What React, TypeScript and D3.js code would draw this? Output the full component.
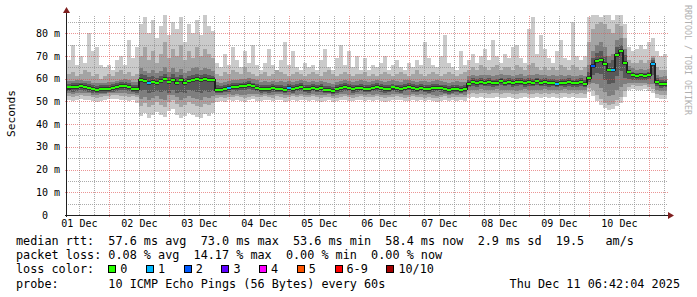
import React from 'react';
import * as d3 from 'd3';

// ---------- data (150 consolidated columns, Dec 1 07:02 -> Dec 11 07:02 UTC) ----------
const MED = [
  56.1, 56.2, 56.5, 56.6, 56.4, 56.0, 55.4, 55.2, 55.4, 55.3,
  55.6, 55.8, 56.2, 56.8, 56.9, 56.4, 55.6, 55.5, 59.6, 59.0,
  58.2, 58.4, 58.0, 58.8, 59.8, 58.6, 59.6, 58.2, 59.4, 58.0,
  58.8, 59.6, 60.0, 59.2, 59.8, 59.6, 59.2, 55.2, 55.0, 55.4,
  55.8, 56.4, 56.2, 56.6, 56.8, 57.2, 56.6, 56.0, 55.4, 55.6,
  55.4, 55.8, 55.5, 55.6, 55.2, 55.8, 55.4, 55.9, 56.2, 55.6,
  55.4, 55.9, 55.5, 55.8, 55.2, 55.0, 54.6, 55.3, 55.8, 56.2,
  55.9, 55.4, 55.7, 56.0, 55.6, 55.5, 55.9, 56.3, 55.8, 55.3,
  55.6, 56.1, 55.7, 55.4, 56.0, 56.4, 55.8, 55.5, 55.9, 55.6,
  55.3, 55.8, 56.0, 55.7, 55.4, 54.9, 55.3, 55.6, 55.2, 55.5,
  57.6, 58.4, 58.0, 58.6, 58.2, 58.5, 57.9, 58.3, 58.8, 58.2,
  58.6, 58.0, 58.4, 58.7, 58.1, 58.5, 58.3, 58.8, 58.2, 58.5,
  58.0, 58.3, 57.8, 58.2, 58.0, 58.4, 57.9, 58.1, 58.4, 57.8,
  60.5, 65.5, 67.6, 68.0, 66.5, 63.6, 64.0, 70.5, 72.0, 67.0,
  62.8, 61.6, 61.2, 61.4, 61.1, 61.5, 66.5, 58.6, 57.6, 57.8,
];
const MAX = [
  68, 75, 66, 70, 67, 80, 72, 74, 66, 65,
  66, 64, 68, 70, 66, 77, 69, 74, 84, 87,
  80, 86, 78, 83, 88, 79, 85, 82, 87, 76,
  84, 80, 86, 79, 88, 83, 81, 67, 65, 71,
  66, 74, 68, 65, 72, 67, 75, 66, 64, 67,
  73, 66, 64, 68, 76, 66, 72, 65, 64, 67,
  65, 66, 64, 68, 73, 65, 64, 69, 75, 66,
  72, 65, 70, 64, 69, 64, 66, 65, 67, 70,
  64, 66, 68, 65, 64, 67, 65, 68, 66, 76,
  69, 66, 65, 70, 79, 67, 65, 64, 72, 66,
  68, 71, 67, 70, 73, 68, 77, 70, 67, 71,
  69, 74, 75, 69, 67, 82, 87, 71, 79, 73,
  69, 67, 72, 77, 69, 68, 85, 70, 68, 70,
  87, 88, 88, 87, 88, 88, 86, 88, 88, 84,
  74, 72, 73, 75, 73, 76, 78, 72, 70, 71,
];
const MIN = [
  50.6, 50.2, 50.8, 51.0, 50.4, 50.7, 50.1, 49.8, 50.3, 50.6,
  50.9, 51.2, 51.0, 50.5, 50.8, 50.2, 50.4, 49.5, 43.5, 44.8,
  42.6, 43.8, 45.2, 44.0, 43.0, 45.6, 46.5, 44.2, 42.8, 43.6,
  45.0, 44.1, 43.2, 42.9, 44.5, 43.7, 44.8, 49.8, 50.2, 49.6,
  50.4, 50.0, 50.6, 50.2, 49.8, 50.5, 50.9, 50.3, 50.1, 50.7,
  50.4, 50.0, 50.8, 50.5, 49.9, 50.3, 50.6, 50.2, 50.8, 50.4,
  50.1, 50.6, 50.3, 49.8, 50.2, 50.5, 49.6, 50.0, 50.4, 50.7,
  50.3, 50.0, 50.5, 50.8, 50.2, 50.4, 50.1, 50.6, 50.3, 49.9,
  50.2, 50.5, 50.8, 50.4, 50.0, 50.3, 50.6, 50.2, 50.5, 50.1,
  50.4, 50.0, 49.7, 50.3, 50.6, 50.1, 50.4, 50.2, 50.5, 50.3,
  51.4, 51.8, 51.5, 52.0, 51.6, 51.3, 51.7, 51.9, 51.4, 51.6,
  51.8, 51.5, 51.2, 51.7, 52.0, 51.6, 51.4, 51.8, 51.5, 51.9,
  51.6, 51.8, 51.3, 51.7, 52.0, 51.5, 51.8, 51.4, 51.7, 51.6,
  54.0, 52.5, 50.0, 48.5, 47.0, 46.0, 46.5, 48.0, 49.5, 52.0,
  55.0, 55.5, 55.0, 55.0, 55.5, 54.5, 53.5, 51.5, 51.0, 51.2,
];
const P2 = [
  52.3, 52.0, 52.5, 52.6, 52.2, 52.4, 51.8, 51.6, 52.0, 52.2,
  52.4, 52.7, 52.6, 52.3, 52.5, 52.0, 52.2, 51.8, 48.0, 49.2,
  47.5, 48.6, 49.8, 48.4, 47.6, 49.9, 50.5, 48.8, 47.4, 48.3,
  49.6, 48.7, 47.9, 47.6, 49.0, 48.2, 49.3, 51.6, 51.9, 51.5,
  52.0, 51.8, 52.2, 51.9, 51.6, 52.1, 52.4, 52.0, 51.8, 52.3,
  52.0, 51.7, 52.3, 52.1, 51.6, 51.9, 52.2, 51.8, 52.4, 52.0,
  51.8, 52.2, 51.9, 51.5, 51.8, 52.1, 51.3, 51.7, 52.0, 52.3,
  51.9, 51.7, 52.1, 52.4, 51.8, 52.0, 51.8, 52.2, 51.9, 51.6,
  51.8, 52.1, 52.4, 52.0, 51.7, 51.9, 52.2, 51.8, 52.1, 51.7,
  52.0, 51.6, 51.4, 51.9, 52.2, 51.7, 52.0, 51.8, 52.1, 51.9,
  53.2, 53.6, 53.4, 53.8, 53.5, 53.2, 53.6, 53.7, 53.3, 53.5,
  53.6, 53.4, 53.1, 53.5, 53.8, 53.4, 53.2, 53.6, 53.3, 53.7,
  53.4, 53.6, 53.2, 53.5, 53.8, 53.3, 53.6, 53.2, 53.5, 53.4,
  56.0, 55.0, 53.0, 51.0, 49.5, 48.5, 49.0, 50.5, 52.0, 54.5,
  56.5, 57.0, 56.8, 56.6, 57.0, 56.2, 55.5, 53.2, 52.8, 53.0,
];
const P9 = [
  62, 63, 61, 62, 64, 63, 61, 62, 60, 61,
  62, 61, 63, 64, 62, 63, 61, 62, 70, 74,
  68, 72, 67, 71, 76, 69, 73, 70, 75, 68,
  72, 69, 74, 70, 73, 71, 69, 62, 61, 63,
  62, 64, 63, 62, 65, 63, 62, 61, 62, 63,
  61, 62, 64, 63, 62, 61, 62, 63, 62, 61,
  62, 63, 62, 61, 63, 64, 62, 61, 62, 63,
  62, 61, 62, 62, 63, 61, 62, 61, 62, 63,
  62, 61, 62, 63, 62, 61, 62, 64, 62, 61,
  62, 63, 62, 61, 62, 63, 62, 61, 62, 63,
  64, 65, 64, 66, 65, 64, 65, 66, 64, 65,
  65, 64, 66, 65, 64, 66, 67, 65, 64, 65,
  64, 65, 64, 66, 65, 64, 66, 65, 64, 65,
  76, 82, 84, 85, 84, 82, 80, 84, 83, 78,
  68, 67, 67, 68, 67, 68, 70, 65, 64, 64,
];
const P3 = [
  53.6, 53.4, 53.8, 53.9, 53.5, 53.6, 53.0, 52.8, 53.2, 53.3,
  53.6, 53.8, 53.9, 53.6, 53.8, 53.4, 53.3, 53.0, 51.0, 52.0,
  50.6, 51.5, 52.4, 51.2, 50.8, 52.6, 53.0, 51.8, 50.5, 51.4,
  52.4, 51.6, 51.0, 50.8, 52.0, 51.3, 52.2, 52.8, 52.9, 52.7,
  53.1, 52.9, 53.3, 53.0, 52.8, 53.2, 53.4, 53.1, 52.9, 53.3,
  53.0, 52.8, 53.3, 53.2, 52.7, 53.0, 53.2, 52.9, 53.4, 53.0,
  52.9, 53.3, 53.0, 52.6, 52.9, 53.2, 52.4, 52.8, 53.1, 53.3,
  53.0, 52.8, 53.2, 53.4, 52.9, 53.1, 52.9, 53.3, 53.0, 52.7,
  52.9, 53.2, 53.4, 53.1, 52.8, 53.0, 53.3, 52.9, 53.2, 52.8,
  53.1, 52.7, 52.5, 53.0, 53.3, 52.8, 53.1, 52.9, 53.2, 53.0,
  54.8, 55.2, 55.0, 55.3, 55.1, 54.8, 55.2, 55.3, 54.9, 55.1,
  55.2, 55.0, 54.7, 55.1, 55.4, 55.0, 54.8, 55.2, 54.9, 55.3,
  55.0, 55.2, 54.8, 55.1, 55.4, 54.9, 55.2, 54.8, 55.1, 55.0,
  57.5, 58.0, 57.5, 56.0, 54.0, 52.5, 53.0, 55.0, 56.5, 57.5,
  58.0, 58.3, 58.2, 58.0, 58.3, 57.8, 57.5, 54.8, 54.4, 54.6,
];
const P8 = [
  58.8, 59.0, 59.2, 59.4, 59.1, 58.8, 58.3, 58.0, 58.3, 58.2,
  58.4, 58.7, 59.0, 59.6, 59.7, 59.2, 58.5, 58.4, 64.5, 63.5,
  62.6, 63.8, 62.4, 63.5, 65.0, 63.0, 64.6, 62.8, 64.2, 62.5,
  63.4, 64.5, 65.0, 63.8, 64.6, 64.2, 63.5, 58.5, 58.2, 58.6,
  59.0, 59.6, 59.4, 59.8, 60.0, 60.3, 59.7, 59.2, 58.6, 58.8,
  58.6, 59.0, 58.7, 58.8, 58.4, 59.0, 58.6, 59.1, 59.4, 58.8,
  58.6, 59.1, 58.7, 59.0, 58.4, 58.2, 57.8, 58.5, 59.0, 59.4,
  59.1, 58.6, 58.9, 59.2, 58.8, 58.7, 59.1, 59.5, 59.0, 58.5,
  58.8, 59.3, 58.9, 58.6, 59.2, 59.6, 59.0, 58.7, 59.1, 58.8,
  58.5, 59.0, 59.2, 58.9, 58.6, 58.2, 58.5, 58.8, 58.4, 58.7,
  61.0, 61.6, 61.2, 61.8, 61.4, 61.7, 61.1, 61.5, 62.0, 61.4,
  61.8, 61.2, 61.6, 61.9, 61.3, 61.7, 61.5, 62.0, 61.4, 61.7,
  61.2, 61.5, 61.0, 61.4, 61.2, 61.6, 61.1, 61.3, 61.6, 61.0,
  66.0, 72.0, 75.0, 76.0, 74.0, 70.0, 71.0, 77.0, 78.0, 73.0,
  65.5, 64.5, 64.0, 64.2, 64.0, 64.4, 69.0, 61.6, 60.8, 61.0,
];
const P4 = [
  54.4, 54.3, 54.7, 54.8, 54.5, 54.3, 53.8, 53.6, 53.9, 53.8,
  54.1, 54.3, 54.6, 55.0, 55.1, 54.7, 54.0, 53.9, 54.5, 54.8,
  53.6, 54.0, 54.6, 54.3, 54.4, 53.8, 54.9, 53.7, 54.2, 53.5,
  54.8, 54.4, 54.2, 53.9, 54.5, 54.0, 54.6, 53.8, 53.7, 54.0,
  54.3, 54.8, 54.6, 55.0, 55.1, 55.4, 54.9, 54.4, 53.9, 54.1,
  53.9, 54.3, 54.0, 54.1, 53.7, 54.3, 53.9, 54.4, 54.6, 54.1,
  53.9, 54.4, 54.0, 54.3, 53.7, 53.5, 53.1, 53.8, 54.3, 54.6,
  54.4, 53.9, 54.2, 54.5, 54.1, 54.0, 54.4, 54.7, 54.3, 53.8,
  54.1, 54.6, 54.2, 53.9, 54.5, 54.8, 54.3, 54.0, 54.4, 54.1,
  53.8, 54.3, 54.5, 54.2, 53.9, 53.4, 53.8, 54.1, 53.7, 54.0,
  56.2, 56.8, 56.5, 57.0, 56.6, 56.9, 56.3, 56.7, 57.1, 56.6,
  57.0, 56.4, 56.8, 57.1, 56.5, 56.9, 56.7, 57.1, 56.6, 56.9,
  56.4, 56.7, 56.2, 56.6, 56.4, 56.8, 56.3, 56.5, 56.8, 56.2,
  58.5, 61.5, 62.5, 62.0, 59.5, 57.5, 58.0, 61.0, 63.5, 60.5,
  59.8, 59.6, 59.4, 59.6, 59.3, 59.7, 61.5, 56.8, 56.0, 56.2,
];
const P7 = [
  57.8, 57.9, 58.2, 58.3, 58.0, 57.7, 57.1, 56.9, 57.1, 57.0,
  57.3, 57.5, 57.9, 58.5, 58.6, 58.1, 57.3, 57.2, 62.0, 61.4,
  60.6, 61.0, 60.4, 61.2, 62.2, 60.9, 62.0, 60.6, 61.8, 60.2,
  61.0, 61.8, 62.2, 61.4, 62.0, 61.8, 61.2, 57.0, 56.7, 57.1,
  57.5, 58.1, 57.9, 58.3, 58.5, 58.9, 58.3, 57.7, 57.1, 57.3,
  57.1, 57.5, 57.2, 57.3, 56.9, 57.5, 57.1, 57.6, 57.9, 57.3,
  57.1, 57.6, 57.2, 57.5, 56.9, 56.7, 56.3, 57.0, 57.5, 57.9,
  57.6, 57.1, 57.4, 57.7, 57.3, 57.2, 57.6, 58.0, 57.5, 57.0,
  57.3, 57.8, 57.4, 57.1, 57.7, 58.1, 57.5, 57.2, 57.6, 57.3,
  57.0, 57.5, 57.7, 57.4, 57.1, 56.6, 57.0, 57.3, 56.9, 57.2,
  59.4, 60.1, 59.7, 60.3, 59.9, 60.2, 59.6, 60.0, 60.5, 59.9,
  60.3, 59.7, 60.1, 60.4, 59.8, 60.2, 60.0, 60.5, 59.9, 60.2,
  59.7, 60.0, 59.5, 59.9, 59.7, 60.1, 59.6, 59.8, 60.1, 59.5,
  63.0, 69.0, 71.5, 72.0, 70.0, 67.0, 68.0, 74.0, 75.0, 70.5,
  64.0, 62.8, 62.5, 62.7, 62.4, 62.8, 68.0, 60.3, 59.3, 59.5,
];
// [column index, lost pings]
const LOSS_EVENTS: [number, number][] = [[20, 1], [40, 1], [55, 1], [122, 1], [131, 2], [136, 1], [146, 1]];

const Y_TICKS = [0, 10, 20, 30, 40, 50, 60, 70, 80];
const LOSS_LEGEND = [
  { label: '0', color: '#26ff00' },
  { label: '1', color: '#00b8ff' },
  { label: '2', color: '#0059ff' },
  { label: '3', color: '#5e00ff' },
  { label: '4', color: '#ff00ff' },
  { label: '5', color: '#ff5500' },
  { label: '6-9', color: '#ff0000' },
  { label: '10/10', color: '#a10000' },
];
const LINE_RTT = 'median rtt:  57.6 ms avg  73.0 ms max  53.6 ms min  58.4 ms now  2.9 ms sd  19.5   am/s';
const LINE_LOSS = 'packet loss: 0.08 % avg  14.17 % max  0.00 % min  0.00 % now';
const LINE_PROBE = 'probe:       10 ICMP Echo Pings (56 Bytes) every 60s';
const STAMP = 'Thu Dec 11 06:42:04 2025';

// ---------- layout ----------
const W = 697, H = 297;
const X0 = 67, X1 = 667, Y0 = 215, YTOP = 15;
const T_START = Date.UTC(2025, 11, 1, 7, 2);
const T_END = Date.UTC(2025, 11, 11, 7, 2);
const YMAX = 88;
const MONO = '"DejaVu Sans Mono", monospace';
const CW = 7.1; // legend char advance
const LEG_FS = 11.8;
const pre = (s: string) => s.replace(/ /g, '\u00a0');

function lossColor(n: number) {
  if (n <= 5) return LOSS_LEGEND[n].color;
  if (n < 10) return LOSS_LEGEND[6].color;
  return LOSS_LEGEND[7].color;
}

export default function App() {
  const N = MED.length;
  const STEP = (T_END - T_START) / N;
  const x = d3.scaleUtc().domain([new Date(T_START), new Date(T_END)]).range([X0, X1]);
  const y = d3.scaleLinear().domain([0, YMAX]).range([Y0, YTOP]);
  const tAt = (i: number) => new Date(T_START + i * STEP);
  const idx = d3.range(N + 1);
  const c = (i: number) => Math.min(i, N - 1);
  const band = (lo: number[], hi: number[]) =>
    d3.area<number>()
      .curve(d3.curveStepAfter)
      .x(i => x(tAt(i)))
      .y0(i => y(lo[c(i)]))
      .y1(i => y(hi[c(i)]))(idx) as string;

  const loss = new Array(N).fill(0);
  LOSS_EVENTS.forEach(([i, n]) => { loss[i] = n; });

  const crisp = (v: number) => Math.round(v) + 0.5;

  const hGrid = d3.range(5, 86, 5);
  const vGrid = d3.utcHour.every(6)!.range(new Date(T_START), new Date(T_END));
  const dayLabels = d3.utcDay.range(new Date(Date.UTC(2025, 11, 1)), new Date(T_END))
    .map(d => new Date(d.getTime() + 12 * 3600 * 1000))
    .filter(d => d.getTime() > T_START && d.getTime() < T_END);
  const fmtDay = d3.utcFormat('%d %b');

  const gridMinor = 'rgba(143,143,143,0.75)';
  const gridMajor = 'rgba(222,79,79,0.6)';

  let cursor = 16 + 13 * CW;
  const legendPos = LOSS_LEGEND.map(it => {
    const bx = cursor;
    const tx = bx + 12;
    cursor = tx + it.label.length * CW + 18.6;
    return { ...it, bx, tx };
  });

  return (
    <svg width={W} height={H} style={{ position: 'absolute', left: 0, top: 0 }} xmlns="http://www.w3.org/2000/svg">
      <defs>
        <clipPath id="plot">
          <rect x={X0} y={YTOP} width={X1 - X0} height={Y0 - YTOP} />
        </clipPath>
      </defs>
      <rect x={0} y={0} width={W} height={H} fill="#ffffff" />

      <g clipPath="url(#plot)" shapeRendering="crispEdges">
        <path d={band(MIN, MAX)} fill="#cacaca" />
        <path d={band(P2, P9)} fill="#a4a4a4" />
        <path d={band(P3, P8)} fill="#7e7e7e" />
        <path d={band(P4, P7)} fill="#585858" />
      </g>

      <g shapeRendering="crispEdges">
        {vGrid.map((t, k) => {
          const major = t.getUTCHours() === 0;
          const xx = crisp(x(t));
          if (xx <= X0 + 1) return null;
          return (
            <line key={'v' + k} x1={xx} x2={xx} y1={major ? Y0 + 2 : Y0} y2={YTOP}
              stroke={major ? gridMajor : gridMinor} strokeDasharray="1,1" />
          );
        })}
        {hGrid.map(v => {
          const major = v % 10 === 0;
          const yy = crisp(y(v));
          return (
            <line key={'h' + v} x1={major ? X0 - 2 : X0 - 1} x2={major ? X1 + 2 : X1 + 1} y1={yy} y2={yy}
              stroke={major ? gridMajor : gridMinor} strokeDasharray="1,1" />
          );
        })}
      </g>

      <g clipPath="url(#plot)" shapeRendering="crispEdges">
        {MED.map((m, i) => {
          const xa = x(tAt(i));
          const xb = x(tAt(i + 1));
          const ym = y(m);
          const prev = i > 0 ? y(MED[i - 1]) : ym;
          const top = Math.min(prev, ym);
          const bot = Math.max(prev, ym);
          return (
            <g key={'m' + i}>
              <rect x={xa} y={ym - 2} width={xb - xa} height={4} fill="#323232" />
              {bot - top > 3 && <rect x={xa - 1} y={top - 1} width={2} height={bot - top + 2} fill="#202020" />}
            </g>
          );
        })}
        {MED.map((m, i) => {
          const xa = x(tAt(i));
          const xb = x(tAt(i + 1));
          return <rect key={'g' + i} x={xa} y={Math.round(y(m)) - 1} width={xb - xa} height={2} fill={lossColor(loss[i])} />;
        })}
      </g>

      <g shapeRendering="crispEdges">
        <line x1={X0 - 2} x2={X1 + 2} y1={Y0 + 0.5} y2={Y0 + 0.5} stroke="#1f1f1f" />
        <line x1={X0 - 0.5} x2={X0 - 0.5} y1={Y0 + 2} y2={YTOP - 3} stroke="#1f1f1f" />
      </g>
      <path d={`M${X1 + 1},${Y0 - 3} L${X1 + 7},${Y0 + 0.5} L${X1 + 1},${Y0 + 4} Z`} fill="#7f1f1f" />
      <path d={`M${X0 - 4},${YTOP - 2} L${X0 - 0.5},${YTOP - 8} L${X0 + 3},${YTOP - 2} Z`} fill="#7f1f1f" />

      <g fontFamily={MONO} fontSize={10} fill="#000">
        {Y_TICKS.map(v => (
          <text key={'yl' + v} x={v === 0 ? 48 : 60} y={y(v) + 3.6} textAnchor="end">
            {v === 0 ? '0' : pre(`${v} m`)}
          </text>
        ))}
        {dayLabels.map((d, k) => (
          <text key={'xl' + k} x={x(d)} y={227} textAnchor="middle">{pre(fmtDay(d))}</text>
        ))}
      </g>

      <text transform="translate(15,113.5) rotate(-90)" textAnchor="middle" fontFamily={MONO} fontSize={11.2} fill="#000">
        Seconds
      </text>

      <text transform="translate(685,5) rotate(90)" fontFamily={MONO} fontSize={8.3} fill="#b0b0b0">
        {pre('RRDTOOL / TOBI OETIKER')}
      </text>

      <g fontFamily={MONO} fontSize={LEG_FS} fill="#000">
        <text x={16} y={245}>{pre(LINE_RTT)}</text>
        <text x={16} y={259.2}>{pre(LINE_LOSS)}</text>
        <text x={16} y={273.4}>{pre('loss color:')}</text>
        {legendPos.map(it => (
          <g key={'lg' + it.label}>
            <rect x={Math.round(it.bx) + 0.5} y={265.5} width={7} height={7} fill={it.color} stroke="#000" strokeWidth={1} shapeRendering="crispEdges" />
            <text x={it.tx} y={273.4}>{it.label}</text>
          </g>
        ))}
        <text x={16} y={287.6}>{pre(LINE_PROBE)}</text>
        <text x={680} y={287.6} textAnchor="end">{pre(STAMP)}</text>
      </g>
    </svg>
  );
}
